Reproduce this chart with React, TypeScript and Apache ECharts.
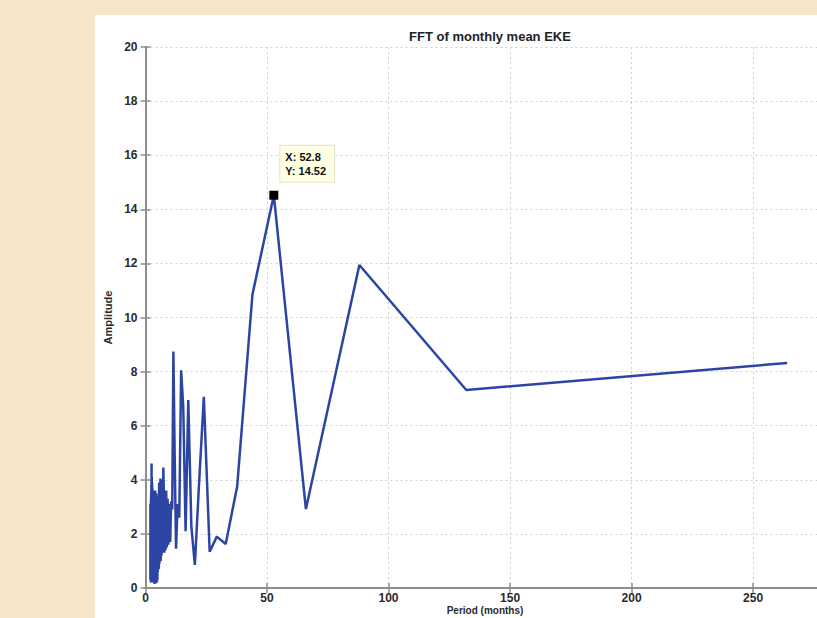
import React, { useEffect, useRef } from "react";
import * as echarts from "echarts";

// FFT amplitude for harmonic k = 1..132 (record length 264 months)
const RECORD_MONTHS = 264;
const amplitudes: number[] = [
  8.32, 7.32, 11.94, 2.92, 14.52, 10.85, 3.75, 1.63, 1.9, 1.34,
  7.07, 3.8, 0.85, 2.3, 6.95, 2.1, 6.7, 8.05, 2.6, 3.1,
  1.45, 4.9, 8.74, 2.9, 3.2, 1.7, 3.1, 1.6, 3.3, 1.5,
  3.6, 1.4, 2.9, 1.3, 3.5, 4.45, 1.3, 2.8, 4.0, 1.2,
  3.7, 1.0, 4.05, 1.3, 3.2, 0.9, 3.9, 0.7, 2.6, 1.1,
  3.4, 0.6, 2.9, 0.3, 3.3, 0.2, 2.7, 0.5, 3.5, 0.25,
  1.9, 3.1, 0.18, 2.4, 0.6, 3.6, 0.3, 2.2, 1.1, 3.2,
  0.15, 2.8, 0.4, 3.4, 0.7, 2.5, 0.2, 3.0, 1.4, 0.3,
  3.6, 0.5, 2.1, 0.2, 3.3, 0.9, 2.6, 0.25, 3.4, 0.4,
  2.9, 0.2, 3.7, 0.6, 2.3, 0.3, 3.9, 0.5, 1.8, 3.2,
  0.2, 4.1, 0.7, 2.7, 0.3, 4.6, 0.4, 3.0, 1.2, 3.8,
  0.2, 2.5, 0.6, 3.5, 0.3, 2.9, 0.9, 3.3, 0.2, 2.2,
  0.5, 3.1, 0.3, 2.6, 1.0, 3.0, 0.4, 2.8, 0.3, 3.1,
  0.6, 0.35,
];
// period of harmonic k is RECORD_MONTHS / k
const periods: number[] = amplitudes.map((_, i) => RECORD_MONTHS / (i + 1));

const datatipX = 52.8;
const datatipY = 14.52;

const titleText = "FFT of monthly mean EKE";
const xName = "Period (months)";
const yName = "Amplitude";

export default function App() {
  const ref = useRef<HTMLDivElement>(null);
  useEffect(() => {
    if (!ref.current) return;
    const chart = echarts.init(ref.current, null, { renderer: "svg" });
    const axisLine = { show: true, lineStyle: { color: "#8e8e8e", width: 2 } };
    const tick = { show: true, inside: true, length: 5, lineStyle: { color: "#8e8e8e", width: 1.5 } };
    const gridLine = { show: true, lineStyle: { color: "#cfcfcf", type: [2, 3] as any, width: 1 } };
    const fontFamily = "Liberation Sans, Arial, sans-serif";
    const labelStyle = { color: "#2a2a2a", fontSize: 12, fontWeight: "bold" as const, fontFamily };
    chart.setOption({
      animation: false,
      backgroundColor: "transparent",
      title: {
        text: titleText,
        left: 485,
        top: 25,
        textAlign: "center",
        textStyle: { color: "#222", fontSize: 13, fontWeight: "bold", fontFamily },
      },
      graphic: [
        {
          type: "text",
          x: 485,
          y: 605,
          style: {
            text: xName,
            fill: "#2a2a2a",
            font: `bold 10px ${fontFamily}`,
            textAlign: "center",
            textVerticalAlign: "top",
          },
        },
      ],
      grid: { left: 145.5, top: 47, right: 54, bottom: 30, containLabel: false, outerBoundsMode: "none" },
      xAxis: [
        {
          type: "value",
          min: 0,
          max: 280,
          interval: 50,
          position: "bottom",
          axisLine,
          axisTick: tick,
          axisLabel: { ...labelStyle, margin: 4, showMaxLabel: false },
          splitLine: gridLine,
        },
        {
          type: "value",
          min: 0,
          max: 280,
          interval: 50,
          position: "top",
          axisLine,
          axisTick: tick,
          axisLabel: { show: false },
          splitLine: { show: false },
        },
      ],
      yAxis: [
        {
          type: "value",
          min: 0,
          max: 20,
          interval: 2,
          position: "left",
          axisLine,
          axisTick: tick,
          axisLabel: { ...labelStyle, margin: 8 },
          splitLine: gridLine,
          name: yName,
          nameLocation: "middle",
          nameGap: 32,
          nameTextStyle: { ...labelStyle, fontSize: 11 },
        },
        {
          type: "value",
          min: 0,
          max: 20,
          interval: 2,
          position: "right",
          axisLine,
          axisTick: tick,
          axisLabel: { show: false },
          splitLine: { show: false },
        },
      ],
      series: [
        {
          type: "line",
          data: periods.map((p, i) => [p, amplitudes[i]]),
          showSymbol: false,
          symbol: "none",
          lineStyle: { color: "#2c45a2", width: 2.5 },
          markPoint: {
            symbol: "rect",
            symbolSize: 9,
            itemStyle: { color: "#000" },
            data: [{ coord: [datatipX, datatipY] }],
            label: {
              show: true,
              position: [11, -45],
              formatter: `X: ${datatipX}\nY: ${datatipY}`,
              color: "#111",
              fontSize: 11,
              fontWeight: "bold",
              fontFamily,
              lineHeight: 14,
              align: "left",
              verticalAlign: "top",
              backgroundColor: "#ffffe4",
              borderColor: "#e6e2c6",
              borderWidth: 1,
              padding: [4, 8, 4, 5],
            },
          },
        },
      ],
    });
    return () => chart.dispose();
  }, []);

  return (
    <div style={{ position: "fixed", left: 0, top: 0, width: 817, height: 618, overflow: "hidden", background: "#f6e5c6" }}>
      <div style={{ position: "absolute", left: 95, top: 15, width: 900, height: 700, background: "#ffffff" }} />
      <div ref={ref} style={{ position: "absolute", left: 0, top: 0, width: 880, height: 618 }} />
    </div>
  );
}
